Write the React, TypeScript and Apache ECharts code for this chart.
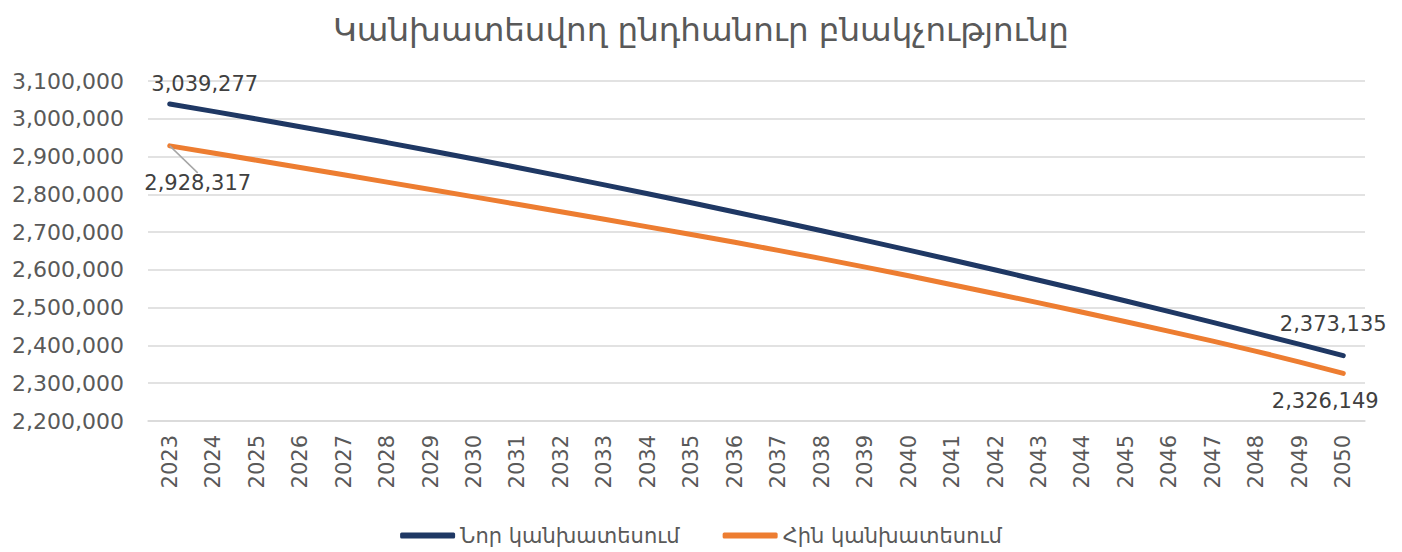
import React, { useEffect, useRef } from "react";
import * as echarts from "echarts";

const years = [
  "2023", "2024", "2025", "2026", "2027", "2028", "2029", "2030", "2031", "2032",
  "2033", "2034", "2035", "2036", "2037", "2038", "2039", "2040", "2041", "2042",
  "2043", "2044", "2045", "2046", "2047", "2048", "2049", "2050",
];

const newForecast = [
  3039277, 3019585, 2999511, 2979053, 2958212, 2936988, 2915381, 2893391, 2871017, 2848261,
  2825121, 2801598, 2777692, 2753403, 2728731, 2703676, 2678238, 2652416, 2626212, 2599624,
  2572653, 2545299, 2517562, 2489442, 2460938, 2432052, 2402782, 2373135,
];

const oldForecast = [
  2928317, 2909317, 2890217, 2871017, 2851717, 2832317, 2812817, 2793217, 2773517, 2753717,
  2733817, 2713817, 2693717, 2673017, 2651717, 2629817, 2607317, 2584317, 2560817, 2536917,
  2512617, 2487917, 2462817, 2437317, 2411417, 2384417, 2356017, 2326149,
];

const yTicks = [2200000, 2300000, 2400000, 2500000, 2600000, 2700000, 2800000, 2900000, 3000000, 3100000];

const titleText = "Կանխատեսվող ընդհանուր բնակչությունը";
const newName = "Նոր կանխատեսում";
const oldName = "Հին կանխատեսում";

const FONT = "DejaVu Sans";
const GREY = "#595959";

const fmt = (v: number) => v.toLocaleString("en-US");

export default function App() {
  const ref = useRef<HTMLDivElement>(null);
  useEffect(() => {
    document.body.style.margin = "0";
    if (!ref.current) return;
    const chart = echarts.init(ref.current, undefined, { renderer: "svg" });
    const last = years.length - 1;
    const mkData = (arr: number[], firstLabel: any, lastLabel: any, lastExtra: any = {}) =>
      arr.map((v, i) => {
        if (i === 0) return { value: v, label: firstLabel };
        if (i === last) return { value: v, label: lastLabel, ...lastExtra };
        return v;
      });
    const labelBase = {
      show: true,
      fontFamily: FONT,
      fontSize: 21,
      color: "#404040",
      formatter: (p: any) => fmt(p.value),
    };
    chart.setOption({
      animation: false,
      backgroundColor: "#ffffff",
      title: {
        text: titleText,
        left: "center",
        top: 8,
        padding: [5, 25, 5, 5],
        textStyle: { fontFamily: FONT, fontSize: 32.5, fontWeight: "normal", color: GREY },
      },
      legend: {
        bottom: 1,
        left: "center",
        itemWidth: 55,
        itemHeight: 6,
        itemGap: 43,
        icon: "roundRect",
        textStyle: { fontFamily: FONT, fontSize: 21, color: GREY },
        data: [newName, oldName],
      },
      grid: { left: 148, right: 37, top: 81, bottom: 131, containLabel: false },
      xAxis: {
        type: "category",
        data: years,
        boundaryGap: true,
        axisLine: { show: true, lineStyle: { color: "#d9d9d9", width: 1.5 } },
        axisTick: { show: false },
        axisLabel: { rotate: 90, margin: 14, fontFamily: FONT, fontSize: 21, color: GREY, interval: 0 },
      },
      yAxis: {
        type: "value",
        min: yTicks[0],
        max: yTicks[yTicks.length - 1],
        interval: 100000,
        axisLine: { show: false },
        axisTick: { show: false },
        splitLine: { lineStyle: { color: "#d9d9d9", width: 1.5 } },
        axisLabel: { margin: 24, fontFamily: FONT, fontSize: 22, color: GREY, formatter: (v: number) => fmt(v) },
      },
      series: [
        {
          name: newName,
          type: "line",
          data: mkData(
            newForecast,
            { ...labelBase, position: "top", offset: [35, -4] },
            { ...labelBase, position: "top", offset: [-10, -16] }
          ),
          symbol: "circle",
          symbolSize: 0.1,
          showSymbol: true,
          lineStyle: { color: "#1f3864", width: 5, cap: "round" },
          itemStyle: { color: "#1f3864" },
          label: { show: false },
          z: 3,
        },
        {
          name: oldName,
          type: "line",
          data: mkData(
            oldForecast,
            { ...labelBase, position: "bottom" },
            { ...labelBase, position: "bottom" },
            { labelLine: { show: false } }
          ),
          symbol: "circle",
          symbolSize: 0.1,
          showSymbol: true,
          lineStyle: { color: "#ed7d31", width: 5, cap: "round" },
          itemStyle: { color: "#ed7d31" },
          label: { show: false },
          labelLine: { show: true, lineStyle: { color: "#a6a6a6", width: 1.5 } },
          labelLayout: (p: any) =>
            p.dataIndex === 0 ? { dx: 28, dy: 22 } : p.dataIndex === last ? { dx: -18, dy: 12 } : {},
          z: 2,
        },
      ],
    });
    return () => chart.dispose();
  }, []);
  return <div ref={ref} style={{ width: 1402, height: 552 }} />;
}
